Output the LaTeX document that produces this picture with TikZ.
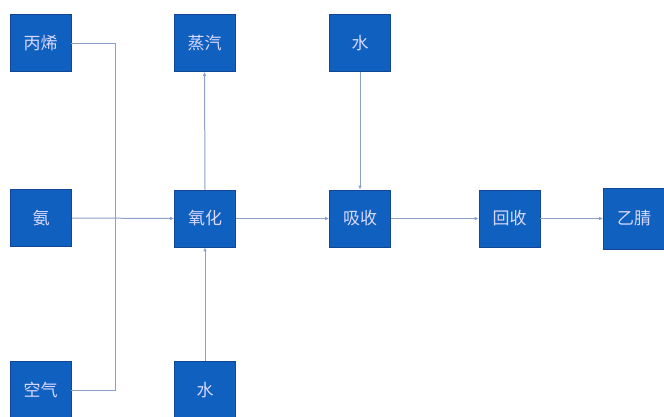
\documentclass[tikz,border=0pt]{standalone}
\usepackage{fontspec}
\newfontfamily\cjk{Noto Sans CJK SC}
\usetikzlibrary{arrows.meta}
\definecolor{boxblue}{RGB}{16,96,192}
\definecolor{boxedge}{RGB}{20,70,150}
\definecolor{linecol}{RGB}{140,160,200}
\tikzset{
  proc/.style={draw=boxedge, line width=0.6pt, fill=boxblue, text=white!85!blue, minimum width=61pt, minimum height=57pt, inner sep=0pt, font=\cjk\fontsize{17}{17}\selectfont},
  conn/.style={draw=linecol, line width=1pt},
  arr/.style={conn, -{Latex[length=4pt,width=3.5pt]}}
}
\begin{document}
\begin{tikzpicture}[x=1pt,y=-1pt]
\useasboundingbox (0,0) rectangle (664,416);
\begin{scope}
\clip (0,0) rectangle (664,416);
\node[proc] (bx) at (40.5,43) {丙烯};
\node[proc] (zq) at (204.5,43) {蒸汽};
\node[proc] (s1) at (360,43) {水};
\node[proc] (an) at (41,218) {氨};
\node[proc] (yh) at (205,218.5) {氧化};
\node[proc] (xs) at (360,218.5) {吸收};
\node[proc] (hs) at (509.5,218.5) {回收};
\node[proc, minimum height=61pt] (yj) at (634,218.5) {乙腈};
\node[proc] (kq) at (40.5,390) {空气};
\node[proc] (s2) at (205,390) {水};
\coordinate (j1) at (115,43);
\coordinate (j2) at (115,390);
\draw[conn] (bx.east) -- (j1) -- (j2) -- (kq.east);
\draw[arr] (an.east) -- (yh.west);
\draw[arr] (yh.north) -- (zq.south);
\draw[arr] (s2.north) -- (yh.south);
\draw[arr] (s1.south) -- (xs.north);
\draw[arr] (yh.east) -- (xs.west);
\draw[arr] (xs.east) -- (hs.west);
\draw[arr] (hs.east) -- (yj.west);
\end{scope}
\end{tikzpicture}
\end{document}
